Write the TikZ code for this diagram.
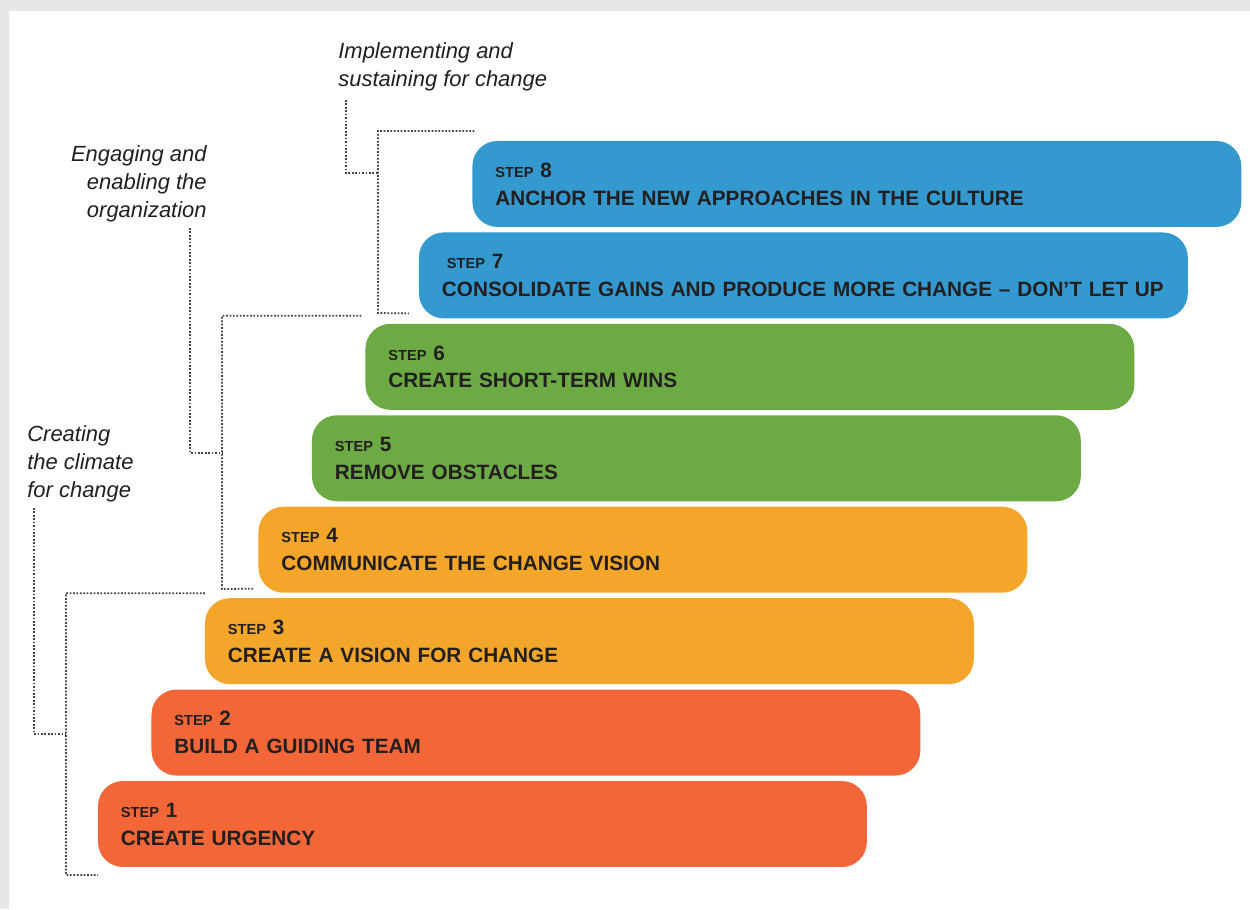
\documentclass[tikz,border=0pt]{standalone}
\usepackage{fontspec}
\setmainfont{Liberation Sans}
\usetikzlibrary{positioning}

\definecolor{stepred}{HTML}{F26638}
\definecolor{stepamber}{HTML}{F4A62A}
\definecolor{stepgreen}{HTML}{6CAA44}
\definecolor{stepblue}{HTML}{3399CE}
\definecolor{framegray}{HTML}{E6E7E8}
\definecolor{inkdark}{HTML}{231F20}
\definecolor{dotgray}{HTML}{454547}

\newcommand{\steptag}[1]{{\fontsize{8.3}{10}\selectfont STEP}~#1}

\begin{document}
\begin{tikzpicture}[
    x=0.02cm, y=-0.02cm,
    stepbar/.style={rectangle, rounded corners=0.5cm, anchor=north west,
                    minimum width=15.38cm, minimum height=1.72cm,
                    text width=14.46cm, inner xsep=0.46cm, inner ysep=0pt,
                    outer sep=0pt, align=left, text=inkdark,
                    font=\fontsize{11.8}{15.9}\selectfont\bfseries},
    phase/.style={inner sep=0pt, text=inkdark,
                  font=\fontsize{12.5}{15.9}\selectfont\itshape},
    bracket/.style={draw=dotgray, line width=1pt,
                    dash pattern=on 1pt off 0.95pt},
]

% Frame
\fill[framegray] (0,0) rectangle (1250,909);
\fill[white] (9,11) rectangle (1250,909);
\useasboundingbox (0,0) rectangle (1250,909);

% --- Steps ---
\node[stepbar, fill=stepred] (s1) at (98,781) {\steptag{1}\\CREATE URGENCY};
\node[stepbar, fill=stepred, above=0.109cm of s1, xshift=1.07cm] (s2) {\steptag{2}\\BUILD A GUIDING TEAM};
\node[stepbar, fill=stepamber, above=0.109cm of s2, xshift=1.07cm] (s3) {\steptag{3}\\CREATE A VISION FOR CHANGE};
\node[stepbar, fill=stepamber, above=0.109cm of s3, xshift=1.07cm] (s4) {\steptag{4}\\COMMUNICATE THE CHANGE VISION};
\node[stepbar, fill=stepgreen, above=0.109cm of s4, xshift=1.07cm] (s5) {\steptag{5}\\REMOVE OBSTACLES};
\node[stepbar, fill=stepgreen, above=0.109cm of s5, xshift=1.07cm] (s6) {\steptag{6}\\CREATE SHORT-TERM WINS};
\node[stepbar, fill=stepblue, above=0.109cm of s6, xshift=1.07cm] (s7) {\hspace{0.1cm}\steptag{7}\\CONSOLIDATE GAINS AND PRODUCE MORE CHANGE – DON’T LET UP};
\node[stepbar, fill=stepblue, above=0.109cm of s7, xshift=1.07cm] (s8) {\steptag{8}\\ANCHOR THE NEW APPROACHES IN THE CULTURE};

% --- Phase labels ---
\node[phase, anchor=north west, align=left] (p1) at (27,425) {Creating\\the climate\\for change};
\node[phase, anchor=north east, align=right] (p2) at (207,145) {Engaging and\\enabling the\\organization};
\node[phase, anchor=north west, align=left] (p3) at (338,42) {Implementing and\\sustaining for change};

% --- Brackets ---
% Creating the climate for change
\coordinate (g1) at (66,875);
\coordinate (k1) at (34,508);
\coordinate (h1) at (66,734);
\draw[bracket] ([yshift=0.1cm]s3.north west) -| (g1) -- ([yshift=-0.16cm]s1.south west);
\draw[bracket] (k1) |- (h1);

% Engaging and enabling the organization
\coordinate (g2) at (222,589);
\coordinate (k2) at (190,228);
\coordinate (h2) at (222,453);
\draw[bracket] ([xshift=-0.08cm, yshift=0.16cm]s6.north west) -| (g2) -- ([xshift=-0.08cm, yshift=0.08cm]s4.south west);
\draw[bracket] (k2) |- (h2);

% Implementing and sustaining for change
\coordinate (g3) at (378,313);
\coordinate (k3) at (346,100);
\coordinate (h3) at (378,173);
\draw[bracket] ([xshift=0.04cm, yshift=0.2cm]s8.north west) -| (g3) -- ([xshift=-0.2cm, yshift=0.1cm]s7.south west);
\draw[bracket] (k3) |- (h3);

\end{tikzpicture}
\end{document}
